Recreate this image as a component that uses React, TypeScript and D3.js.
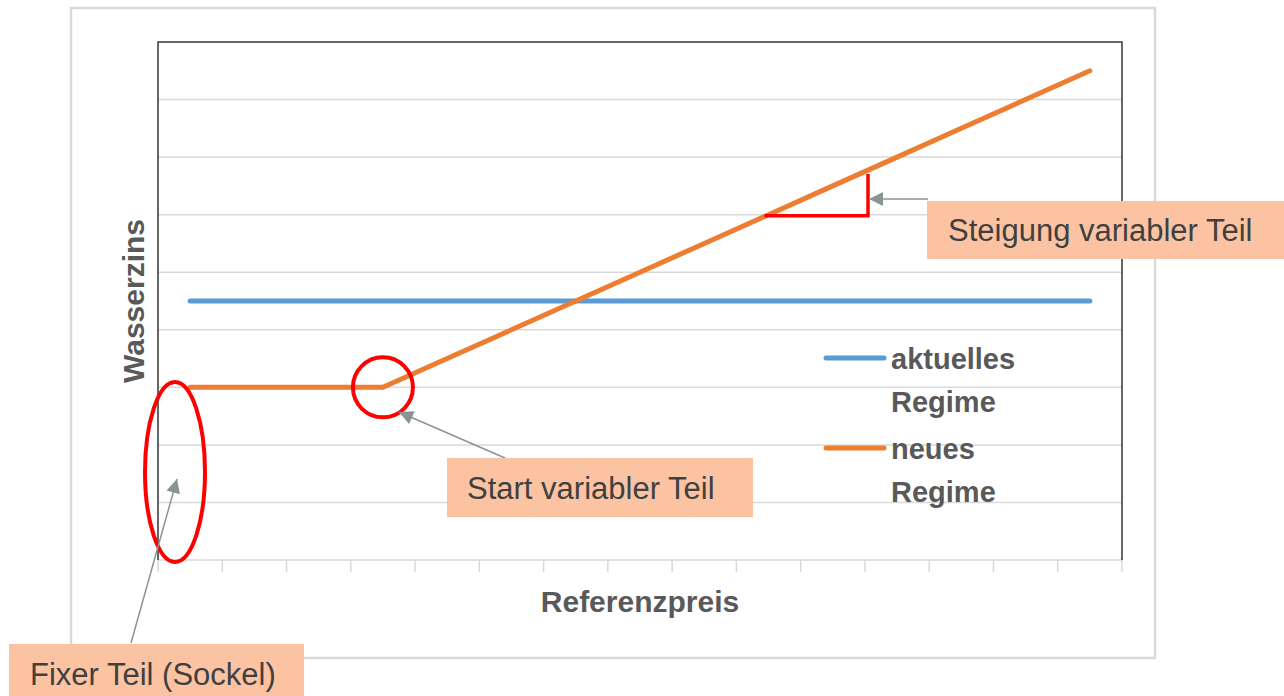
import React, { useEffect, useRef } from 'react';
import * as d3 from 'd3';

// categories on the x axis (no labels shown in the chart)
const categories = ['1', '2', '3', '4', '5', '6', '7', '8', '9', '10', '11', '12', '13', '14', '15'];
// Wasserzins values per category
const aktuellesRegime = [4.5, 4.5, 4.5, 4.5, 4.5, 4.5, 4.5, 4.5, 4.5, 4.5, 4.5, 4.5, 4.5, 4.5, 4.5];
const neuesRegime = [3, 3, 3, 3, 3.5, 4, 4.5, 5, 5.5, 6, 6.5, 7, 7.5, 8, 8.5];
const yTicks = [0, 1, 2, 3, 4, 5, 6, 7, 8, 9];
const seriesNames = [['aktuelles', 'Regime'], ['neues', 'Regime']];

const App = () => {
  const svgRef = useRef<SVGSVGElement>(null);

  useEffect(() => {
    const svg = d3.select(svgRef.current);
    svg.selectAll('*').remove();

    const width = 1284;
    const height = 696;
    const plot = { left: 158, right: 1122, top: 42, bottom: 560 };
    const font = '"Liberation Sans", Arial, sans-serif';

    svg.append('rect').attr('width', width).attr('height', height).attr('fill', 'white');

    // arrowhead marker
    svg.append('defs').append('marker')
      .attr('id', 'arrow')
      .attr('viewBox', '0 0 10 10')
      .attr('refX', 10).attr('refY', 5)
      .attr('markerWidth', 16).attr('markerHeight', 14)
      .attr('markerUnits', 'userSpaceOnUse')
      .attr('orient', 'auto')
      .append('path').attr('d', 'M0,0 L10,5 L0,10 Z').attr('fill', '#8a9396');

    // outer chart frame
    svg.append('rect')
      .attr('x', 71).attr('y', 8).attr('width', 1084).attr('height', 650)
      .attr('fill', 'white').attr('stroke', '#d9d9d9').attr('stroke-width', 2.5);

    const x = d3.scaleBand().domain(categories).range([plot.left, plot.right]).paddingInner(0).paddingOuter(0);
    const y = d3.scaleLinear().domain([0, 9]).range([plot.bottom, plot.top]);
    const cx = (c: string) => (x(c) as number) + x.bandwidth() / 2;

    // gridlines
    svg.append('g').selectAll('line').data(yTicks).enter().append('line')
      .attr('x1', plot.left).attr('x2', plot.right)
      .attr('y1', d => y(d)).attr('y2', d => y(d))
      .attr('stroke', '#d9d9d9').attr('stroke-width', 1.5);

    // x axis tick marks at band boundaries
    const bounds = categories.map(c => x(c) as number).concat([plot.right]);
    svg.append('g').selectAll('line').data(bounds).enter().append('line')
      .attr('x1', d => d).attr('x2', d => d)
      .attr('y1', plot.bottom).attr('y2', plot.bottom + 12)
      .attr('stroke', '#d9d9d9').attr('stroke-width', 1.5);

    // plot frame (top, left, right dark)
    svg.append('path')
      .attr('d', `M${plot.left},${plot.bottom} V${plot.top} H${plot.right} V${plot.bottom}`)
      .attr('fill', 'none').attr('stroke', '#404040').attr('stroke-width', 1.6);

    const line = d3.line<number>().x((d, i) => cx(categories[i])).y(d => y(d));
    svg.append('path').datum(aktuellesRegime).attr('d', line)
      .attr('fill', 'none').attr('stroke', '#5b9bd5').attr('stroke-width', 5).attr('stroke-linecap', 'round');
    svg.append('path').datum(neuesRegime).attr('d', line)
      .attr('fill', 'none').attr('stroke', '#ed7d31').attr('stroke-width', 5).attr('stroke-linecap', 'round');

    // axis titles
    svg.append('text')
      .attr('transform', `translate(144, ${(plot.top + plot.bottom) / 2}) rotate(-90)`)
      .attr('text-anchor', 'middle')
      .attr('font-family', font).attr('font-weight', 'bold').attr('font-size', 30)
      .attr('fill', '#595959').text('Wasserzins');
    svg.append('text')
      .attr('x', 640).attr('y', 612)
      .attr('text-anchor', 'middle')
      .attr('font-family', font).attr('font-weight', 'bold').attr('font-size', 30)
      .attr('fill', '#595959').text('Referenzpreis');

    // legend
    const legendColors = ['#5b9bd5', '#ed7d31'];
    const legendY = [358, 448];
    seriesNames.forEach((name, i) => {
      svg.append('line')
        .attr('x1', 826).attr('x2', 884).attr('y1', legendY[i]).attr('y2', legendY[i])
        .attr('stroke', legendColors[i]).attr('stroke-width', 5).attr('stroke-linecap', 'round');
      name.forEach((t, j) => {
        svg.append('text')
          .attr('x', 891).attr('y', legendY[i] + 11 + j * 43)
          .attr('font-family', font).attr('font-weight', 'bold').attr('font-size', 29)
          .attr('fill', '#595959').text(t);
      });
    });

    // red annotations
    svg.append('ellipse')
      .attr('cx', 175).attr('cy', 472).attr('rx', 30).attr('ry', 90)
      .attr('fill', 'none').attr('stroke', '#ff0000').attr('stroke-width', 4);
    svg.append('circle')
      .attr('cx', cx(categories[3])).attr('cy', y(neuesRegime[3])).attr('r', 30)
      .attr('fill', 'none').attr('stroke', '#ff0000').attr('stroke-width', 4);
    svg.append('path')
      .attr('d', `M${cx(categories[9]) - 4},${y(neuesRegime[9]) + 1} H868 V174`)
      .attr('fill', 'none').attr('stroke', '#ff0000').attr('stroke-width', 3.5);

    // callout arrows
    const arrows = [
      [131, 643, 177, 479],
      [505, 458, 399, 412],
      [928, 199, 869, 199],
    ];
    arrows.forEach(([x1, y1, x2, y2]) => {
      svg.append('line')
        .attr('x1', x1).attr('y1', y1).attr('x2', x2).attr('y2', y2)
        .attr('stroke', '#8a9396').attr('stroke-width', 1.5)
        .attr('marker-end', 'url(#arrow)');
    });

    // callout boxes
    const boxes = [
      { x: 927, y: 201, w: 360, h: 58, tx: 948, ty: 241, text: 'Steigung variabler Teil' },
      { x: 447, y: 458, w: 306, h: 59, tx: 467, ty: 499, text: 'Start variabler Teil' },
      { x: 9, y: 644, w: 295, h: 55, tx: 30, ty: 685, text: 'Fixer Teil (Sockel)' },
    ];
    boxes.forEach(b => {
      svg.append('rect').attr('x', b.x).attr('y', b.y).attr('width', b.w).attr('height', b.h).attr('fill', '#fcc3a3');
      svg.append('text').attr('x', b.tx).attr('y', b.ty)
        .attr('font-family', font).attr('font-size', 31).attr('fill', '#404040').text(b.text);
    });
  }, []);

  return (
    <svg ref={svgRef} width={1284} height={696}
      style={{ position: 'absolute', left: 0, top: 0, display: 'block' }} />
  );
};

export default App;
